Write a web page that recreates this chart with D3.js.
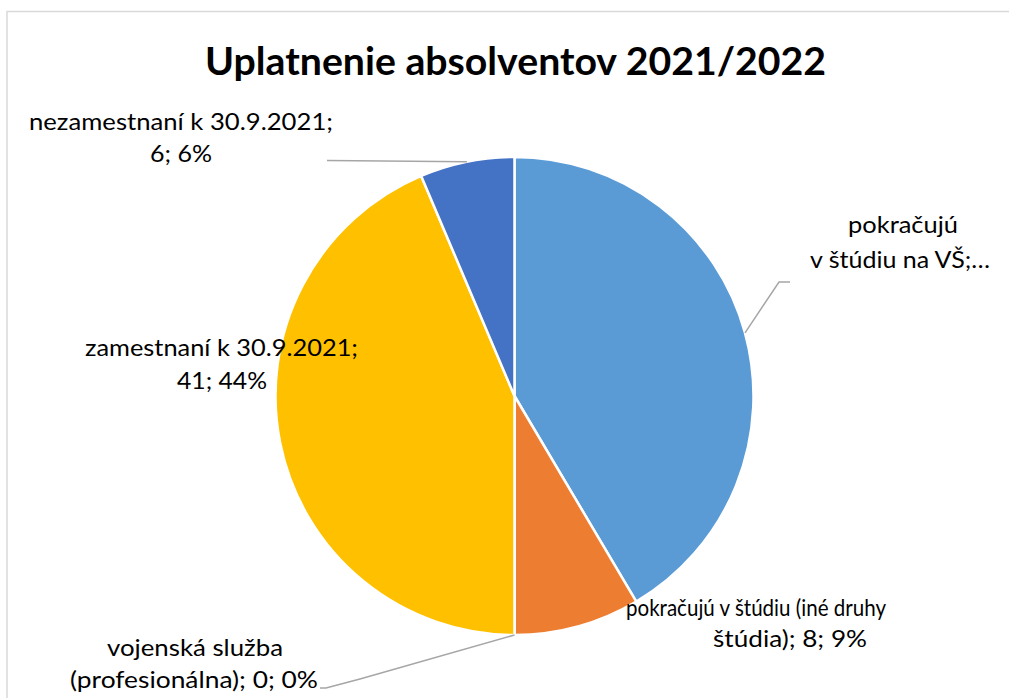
<!DOCTYPE html>
<html><head><meta charset="utf-8">
<script src="https://cdn.jsdelivr.net/npm/d3@7"></script>
<style>html,body{margin:0;padding:0;background:#fff;overflow:hidden}</style>
</head><body><svg id="c" width="1009" height="698"></svg>
<script>
// ---- data ----
const title = "Uplatnenie absolventov 2021/2022";
const categories = ["pokračujú v štúdiu na VŠ", "pokračujú v štúdiu (iné druhy štúdia)", "vojenská služba (profesionálna)", "zamestnaní k 30.9.2021", "nezamestnaní k 30.9.2021"];
const values = [39, 8, 0, 41, 6];
const colors = ["#5B9BD5", "#ED7D31", "#A5A5A5", "#FFC000", "#4472C4"];
const labelLines = [
  ["pokračujú", "v štúdiu na VŠ;…"],
  ["pokračujú v štúdiu (iné druhy", "štúdia); 8; 9%"],
  ["vojenská služba", "(profesionálna); 0; 0%"],
  ["zamestnaní k 30.9.2021;", "41; 44%"],
  ["nezamestnaní k 30.9.2021;", "6; 6%"]
];

// ---- layout ----
const W = 1009, H = 698;
const cx = 514.5, cy = 396, R = 239;
const labelLayout = [
  {lines: [{x: 903, y: 233, w: 110}, {x: 900, y: 268, w: 180}], leader: [[779, 282], [790, 282]]},
  {lines: [{x: 756, y: 616, w: 260}, {x: 790, y: 647, w: 154}], leader: null},
  {lines: [{x: 195, y: 656, w: 176}, {x: 194, y: 688, w: 248}], leader: [[360, 679], [326, 688], [320, 688]]},
  {lines: [{x: 221.5, y: 356, w: 273}, {x: 222, y: 389, w: 90}], leader: null},
  {lines: [{x: 181, y: 130, w: 304}, {x: 181, y: 162, w: 62}], leader: [[327, 160.5]]}
];

const svg = d3.select("#c");
svg.append("rect").attr("width", W).attr("height", H).attr("fill", "#fff");
svg.append("rect").attr("x", 7).attr("y", 11.5).attr("width", W + 20).attr("height", H + 20)
  .attr("fill", "none").attr("stroke", "#D9D9D9").attr("stroke-width", 1.5);

svg.append("text").attr("x", 515.5).attr("y", 75).attr("text-anchor", "middle")
  .attr("font-family", "Lato, 'Open Sans', sans-serif").attr("font-weight", "bold")
  .attr("font-size", 39).attr("fill", "#000")
  .attr("textLength", 621).attr("lengthAdjust", "spacingAndGlyphs")
  .text(title);

const data = categories.map((c, i) => ({cat: c, value: values[i], color: colors[i], i}));
const pie = d3.pie().sort(null).value(d => d.value).startAngle(0).endAngle(2 * Math.PI);
const arcs = pie(data);
const arc = d3.arc().innerRadius(0).outerRadius(R);

const g = svg.append("g").attr("transform", `translate(${cx},${cy})`);
g.selectAll("path").data(arcs).join("path")
  .attr("d", arc).attr("fill", d => d.data.color)
  .attr("stroke", "#fff").attr("stroke-width", 2.5).attr("stroke-linejoin", "round");

// leader lines
arcs.forEach((a, i) => {
  const L = labelLayout[i];
  if (!L.leader) return;
  const mid = (a.startAngle + a.endAngle) / 2;
  const sx = cx + R * Math.sin(mid), sy = cy - R * Math.cos(mid);
  const pts = [[sx, sy]].concat(L.leader);
  svg.append("path").attr("d", d3.line()(pts)).attr("fill", "none")
    .attr("stroke", "#A6A6A6").attr("stroke-width", 1.5);
});

// labels
labelLines.forEach((lines, i) => {
  const L = labelLayout[i];
  lines.forEach((t, j) => {
    const p = L.lines[j];
    svg.append("text").attr("x", p.x).attr("y", p.y).attr("text-anchor", "middle")
      .attr("font-family", "Lato, 'Open Sans', sans-serif").attr("font-size", 23.5)
      .attr("fill", "#000")
      .attr("textLength", p.w).attr("lengthAdjust", "spacingAndGlyphs")
      .text(t);
  });
});
</script></body></html>
